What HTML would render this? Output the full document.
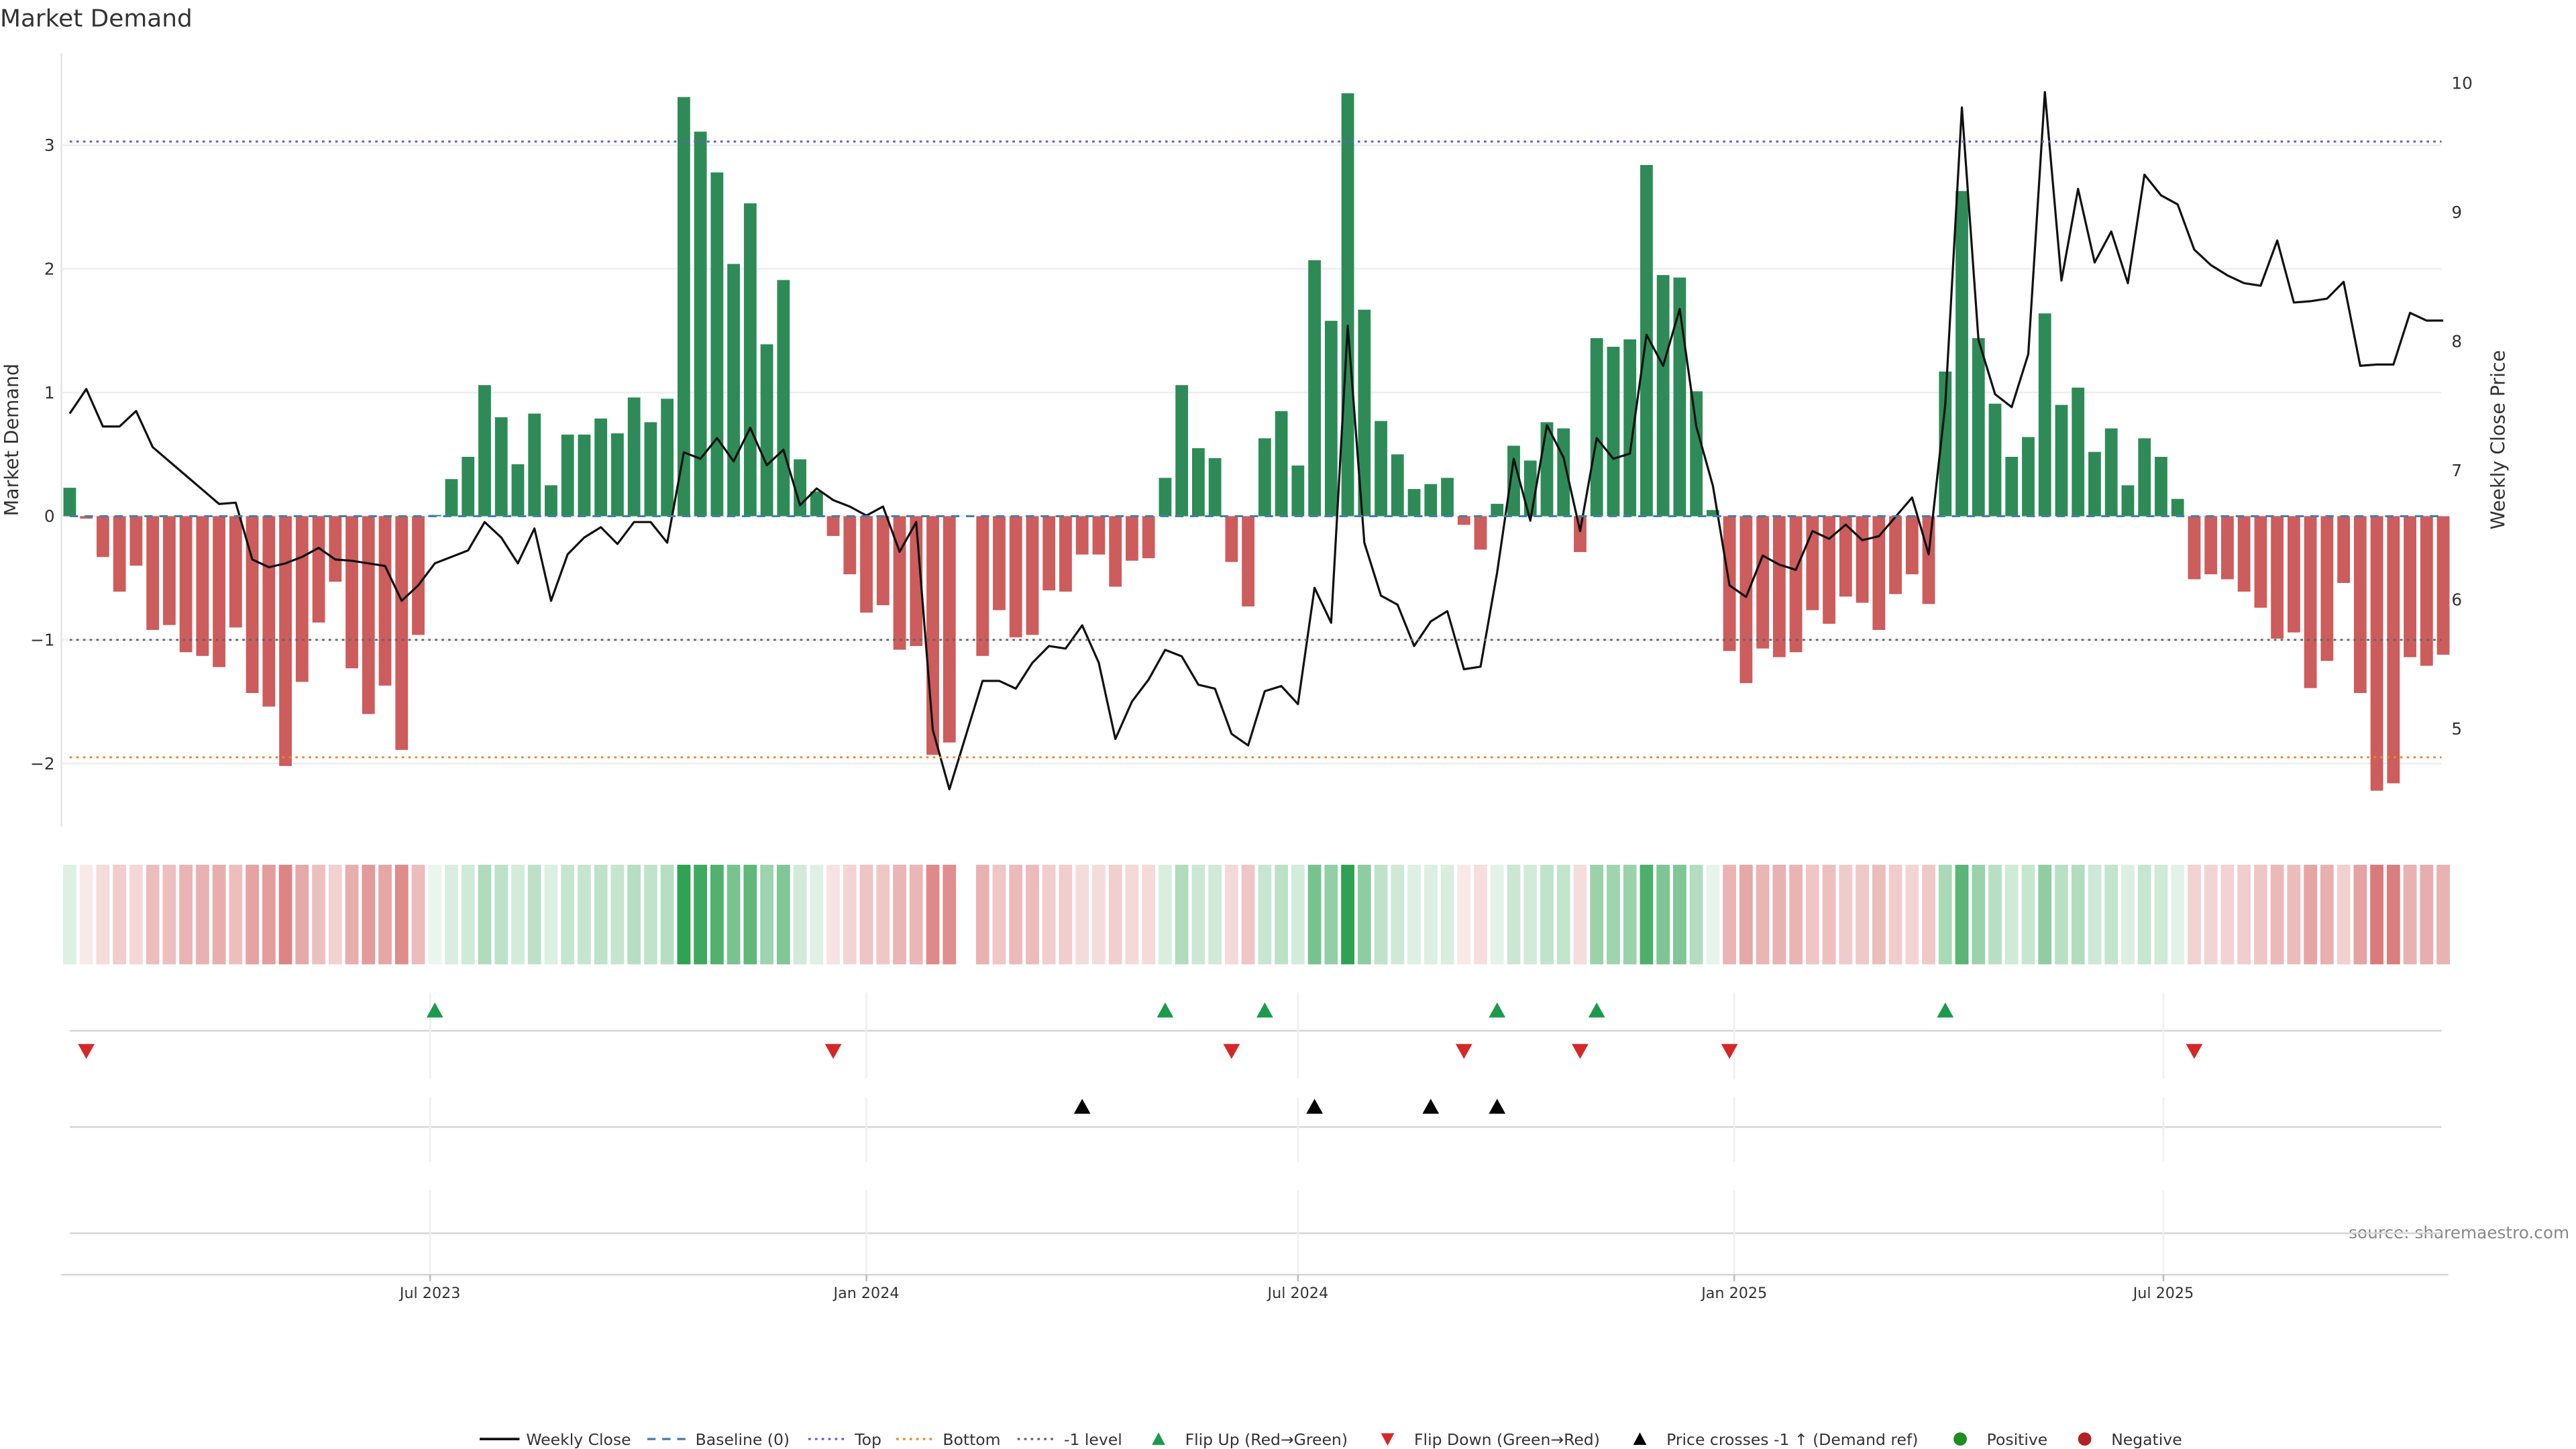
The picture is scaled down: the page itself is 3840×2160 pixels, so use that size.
<!DOCTYPE html>
<html><head><meta charset="utf-8">
<style>
html,body{margin:0;padding:0;background:#fff;}
svg{display:block;font-family:"DejaVu Sans","Liberation Sans",sans-serif;}
</style></head>
<body>
<svg id="chart" width="3840" height="2160" viewBox="0 0 1552 873" xmlns="http://www.w3.org/2000/svg">
<text x="0" y="16" font-size="14.5" fill="#333">Market Demand</text>
<text transform="translate(11,265) rotate(-90)" text-anchor="middle" font-size="11.5" fill="#333">Market Demand</text>
<text transform="translate(1509,265) rotate(-90)" text-anchor="middle" font-size="11.5" fill="#333">Weekly Close Price</text>
<text x="1548" y="746" text-anchor="end" font-size="10" fill="#888">source: sharemaestro.com</text>
<g id="grid"></g><g id="lines"></g><g id="bars"></g><g id="price"></g><g id="heat"></g><g id="markers"></g><g id="xaxis"></g><g id="legend"></g>
</svg>
<script>
const demand=[0.23,-0.02,-0.33,-0.61,-0.40,-0.92,-0.88,-1.10,-1.13,-1.22,-0.90,-1.43,-1.54,-2.02,-1.34,-0.86,-0.53,-1.23,-1.60,-1.37,-1.89,-0.96,0.01,0.30,0.48,1.06,0.80,0.42,0.83,0.25,0.66,0.66,0.79,0.67,0.96,0.76,0.95,3.39,3.11,2.78,2.04,2.53,1.39,1.91,0.46,0.20,-0.16,-0.47,-0.78,-0.72,-1.08,-1.05,-1.93,-1.83,null,-1.13,-0.76,-0.98,-0.96,-0.60,-0.61,-0.31,-0.31,-0.57,-0.36,-0.34,0.31,1.06,0.55,0.47,-0.37,-0.73,0.63,0.85,0.41,2.07,1.58,3.42,1.67,0.77,0.50,0.22,0.26,0.31,-0.07,-0.27,0.10,0.57,0.45,0.76,0.71,-0.29,1.44,1.37,1.43,2.84,1.95,1.93,1.01,0.05,-1.09,-1.35,-1.07,-1.14,-1.10,-0.76,-0.87,-0.65,-0.70,-0.92,-0.63,-0.47,-0.71,1.17,2.63,1.44,0.91,0.48,0.64,1.64,0.90,1.04,0.52,0.71,0.25,0.63,0.48,0.14,-0.51,-0.47,-0.51,-0.61,-0.74,-0.99,-0.94,-1.39,-1.17,-0.54,-1.43,-2.22,-2.16,-1.14,-1.21,-1.12];
const price=[7.44,7.63,7.34,7.34,7.46,7.18,7.07,6.96,6.85,6.74,6.75,6.31,6.25,6.28,6.33,6.40,6.31,6.30,6.28,6.26,5.99,6.11,6.28,6.33,6.38,6.60,6.48,6.28,6.55,5.99,6.35,6.48,6.56,6.43,6.60,6.60,6.44,7.14,7.09,7.25,7.07,7.33,7.04,7.16,6.73,6.86,6.77,6.72,6.65,6.72,6.37,6.60,4.99,4.53,4.95,5.37,5.37,5.31,5.51,5.64,5.62,5.80,5.51,4.92,5.21,5.38,5.61,5.56,5.34,5.31,4.96,4.87,5.29,5.33,5.19,6.09,5.82,8.12,6.44,6.03,5.96,5.64,5.83,5.91,5.46,5.48,6.21,7.09,6.61,7.35,7.10,6.53,7.25,7.09,7.13,8.05,7.81,8.25,7.34,6.88,6.11,6.02,6.34,6.27,6.23,6.53,6.47,6.58,6.46,6.49,6.64,6.79,6.35,7.51,9.81,8.01,7.59,7.49,7.90,9.93,8.47,9.18,8.61,8.85,8.45,9.29,9.13,9.06,8.71,8.59,8.51,8.45,8.43,8.78,8.30,8.31,8.33,8.46,7.81,7.82,7.82,8.22,8.16,8.16];
const priceCross=[61,75,82,86];
const yTicks=[3,2,1,0,-1,-2];
const yTickLabels=["3","2","1","0","−1","−2"];
const y2Ticks=[10,9,8,7,6,5];
const xTickDates=["2023-07-01","2024-01-01","2024-07-01","2025-01-01","2025-07-01"];
const xTickLabels=["Jul 2023","Jan 2024","Jul 2024","Jan 2025","Jul 2025"];
const topLevel=3.03, bottomLevel=-1.95, minusLevel=-1;
const startDate="2023-01-30";

const NS="http://www.w3.org/2000/svg";
const X0=42, DX=10.0;
const xi=i=>X0+DX*i;
const xd=d=>X0+DX*((new Date(d)-new Date(startDate))/864e5/7);
const yv=v=>311-v*74.5;
const yp=p=>50+(10-p)*77.8;
function mk(tag,attrs,parent,text){const e=document.createElementNS(NS,tag);for(const k in attrs)e.setAttribute(k,attrs[k]);if(text!=null)e.textContent=text;document.getElementById(parent).appendChild(e);return e;}

// axes + grid
let e=mk('line',{x1:37,x2:37,y1:32,y2:498,stroke:'#e3e3e3','stroke-width':1},'grid');


yTicks.forEach((t,k)=>{
  let g=mk('line',{x1:37,x2:1471,y1:yv(t),y2:yv(t),stroke:'#eeeeee','stroke-width':1},'grid');
  
  
  let l=mk('text',{x:33,y:yv(t)+3.5,'text-anchor':'end','font-size':10,fill:'#333'},'grid',yTickLabels[k]);
  
  
});
y2Ticks.forEach(t=>{
  let l=mk('text',{x:1477,y:yp(t)+3.5,'font-size':10,fill:'#333'},'grid',String(t));
  
  
});
// reference lines
[[topLevel,'#6a5acd','1.5,2.5','top-line'],[bottomLevel,'#e8892b','1.5,2.5','bottom-line'],[minusLevel,'#666','1.5,2.5','minus-one-line']].forEach(r=>{
  let l=mk('line',{x1:42,x2:1471,y1:yv(r[0]),y2:yv(r[0]),stroke:r[1],'stroke-width':1.2,'stroke-dasharray':r[2]},'lines');
  
  
});
// bars
demand.forEach((v,i)=>{
  if(v==null)return;
  const y0=yv(0),y1=yv(v);
  let b=mk('rect',{x:xi(i)-3.8,width:7.6,y:Math.min(y0,y1),height:Math.max(0.6,Math.abs(y1-y0)),fill:v>=0?'#2e8b57':'#cd5c5c'},'bars');
  
  
});
e=mk('line',{x1:42,x2:1471,y1:yv(0),y2:yv(0),stroke:'#3f7fb0','stroke-width':1.2,'stroke-dasharray':'5,4'},'lines');


document.getElementById('chart').appendChild(document.getElementById('lines'));
// price
e=mk('polyline',{points:price.map((p,i)=>xi(i)+','+yp(p)).join(' '),fill:'none',stroke:'#111','stroke-width':1.3,'stroke-linejoin':'round'},'price');


// heatmap
demand.forEach((v,i)=>{
  if(v==null)return;
  const t=Math.min(1,0.1+0.26*Math.abs(v));
  const base=v>=0?[44,160,80]:[200,60,60];
  const c=base.map(b=>Math.round(255+(b-255)*t));
  let r=mk('rect',{x:xi(i)-4,width:8,y:521,height:60,fill:'rgb('+c.join(',')+')'},'heat');
  
  
});
// lower panels
[621,679,743].forEach(y=>{
  let l=mk('line',{x1:42,x2:1471,y1:y,y2:y,stroke:'#d5d5d5','stroke-width':1},'markers');
  
  
});
xTickDates.forEach(d=>{
  [[598,650],[661,700],[717,768]].forEach(s=>{
    let l=mk('line',{x1:xd(d),x2:xd(d),y1:s[0],y2:s[1],stroke:'#f0f0f0','stroke-width':1},'markers');
    
    
  });
});
function tri(x,y,up,color,name){
  const s=5;
  const pts=up?[[x-s,y+4],[x+s,y+4],[x,y-5]]:[[x-s,y-4],[x+s,y-4],[x,y+5]];
  let p=mk('polygon',{points:pts.map(q=>q.join(',')).join(' '),fill:color},'markers');
  
  
}
let prev=null;
demand.forEach((v,i)=>{
  if(v==null)return;
  if(prev!=null){
    if(prev<0&&v>=0)tri(xi(i),609,true,'#1a9a4a','flip-up-marker');
    if(prev>=0&&v<0)tri(xi(i),633,false,'#d62728','flip-down-marker');
  }
  prev=v;
});
priceCross.forEach(i=>tri(xi(i),667,true,'#000','price-cross-marker'));
// x axis
e=mk('line',{x1:37,x2:1475,y1:768,y2:768,stroke:'#d5d5d5','stroke-width':1},'xaxis');


xTickDates.forEach((d,k)=>{
  let t=mk('line',{x1:xd(d),x2:xd(d),y1:768,y2:772,stroke:'#bbb'},'xaxis');
  
  
  let l=mk('text',{x:xd(d),y:782,'text-anchor':'middle','font-size':9,fill:'#333'},'xaxis',xTickLabels[k]);
  
  
});
// legend
const LY=867;
function ltext(x,s){let t=mk('text',{x:x,y:LY+3.5,'font-size':9.5,fill:'#333'},'legend',s);}
function lline(x,color,dash,w,name){let l=mk('line',{x1:x,x2:x+24,y1:LY,y2:LY,stroke:color,'stroke-width':w,'stroke-dasharray':dash},'legend');}
lline(289,'#111','none',1.5,'legend-weekly-close');ltext(317,'Weekly Close');
lline(390,'#3f7fb0','5,4',1.3,'legend-baseline');ltext(419,'Baseline (0)');
lline(487,'#6a5acd','1.5,2.5',1.3,'legend-top');ltext(515,'Top');
lline(540,'#e8892b','1.5,2.5',1.3,'legend-bottom');ltext(568,'Bottom');
lline(613,'#666','1.5,2.5',1.3,'legend-minus-one');ltext(641,'-1 level');
function ltri(x,up,color,name){const pts=up?[[x-4,LY+3.5],[x+4,LY+3.5],[x,LY-4]]:[[x-4,LY-3.5],[x+4,LY-3.5],[x,LY+4]];let p=mk('polygon',{points:pts.map(q=>q.join(',')).join(' '),fill:color},'legend');}
ltri(698,true,'#1a9a4a','legend-flip-up');ltext(714,'Flip Up (Red→Green)');
ltri(836,false,'#d62728','legend-flip-down');ltext(852,'Flip Down (Green→Red)');
ltri(988,true,'#000','legend-price-cross');ltext(1004,'Price crosses -1 ↑ (Demand ref)');
e=mk('circle',{cx:1181,cy:LY,r:4,fill:'#228b22'},'legend');


ltext(1197,'Positive');
e=mk('circle',{cx:1256,cy:LY,r:4,fill:'#b22222'},'legend');


ltext(1272,'Negative');
</script>
</body></html>
